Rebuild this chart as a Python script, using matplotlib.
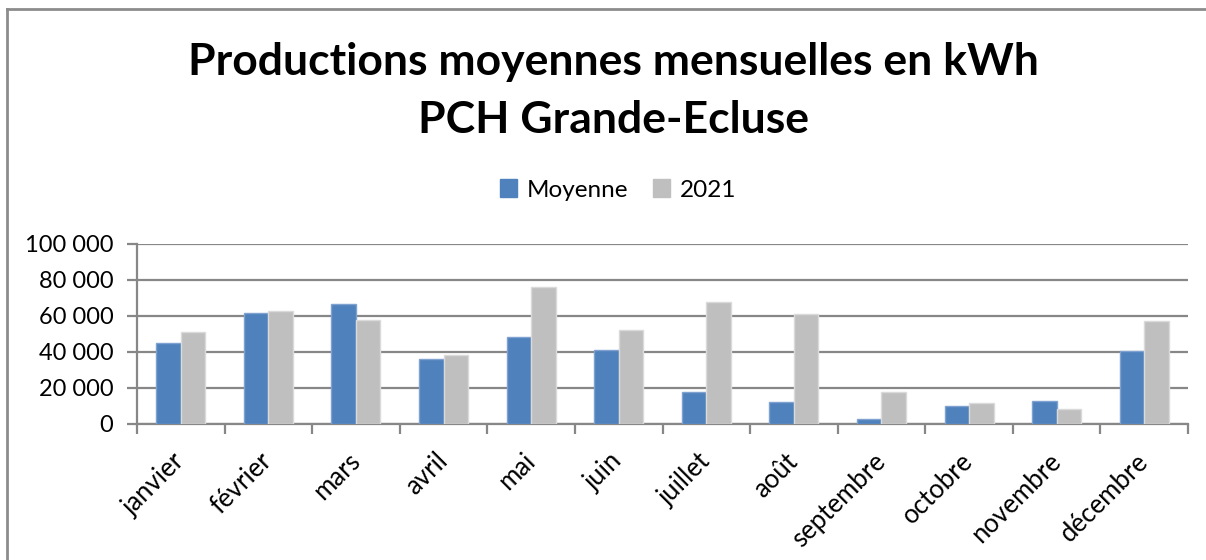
import matplotlib
matplotlib.use("Agg")
import matplotlib.pyplot as plt
import numpy as np
from matplotlib.ticker import FuncFormatter, MultipleLocator
from matplotlib.lines import Line2D

months = ["janvier", "février", "mars", "avril", "mai", "juin", "juillet",
          "août", "septembre", "octobre", "novembre", "décembre"]
moyenne = [44800, 61700, 66900, 36100, 48500, 40900, 17600, 12200, 3000, 10200, 12600, 40700]
y2021 = [50900, 62600, 57800, 38300, 75900, 52000, 67800, 60900, 18000, 11500, 8200, 57200]
series_names = ["Moyenne", "2021"]
colors = ["#4F81BD", "#BFBFBF"]
edgecolors = ["#7FA2D0", "#DADADA"]

plt.rcParams['font.family'] = ['Lato', 'DejaVu Sans']

fig = plt.figure(figsize=(12.06, 5.6), dpi=100)
ax = fig.add_axes([137/1206, 1-424/560, (1188-137)/1206, (424-244)/560])

x = np.arange(len(months))
w = 0.28
ax.bar(x - w/2, moyenne, width=w, color=colors[0], edgecolor=edgecolors[0], linewidth=1, zorder=3, label=series_names[0])
ax.bar(x + w/2, y2021, width=w, color=colors[1], edgecolor=edgecolors[1], linewidth=1, zorder=3, label=series_names[1])

ax.set_xlim(-0.5, len(months) - 0.5)
ax.set_ylim(0, 100000)
ax.yaxis.set_major_locator(MultipleLocator(20000))
ax.yaxis.set_major_formatter(FuncFormatter(lambda v, p: f"{int(v):,}".replace(",", " ")))
ax.grid(axis='y', color='#878787', linewidth=1.6, zorder=0)
ax.set_axisbelow(True)

for s in ['top', 'right']:
    ax.spines[s].set_visible(False)
for s in ['left', 'bottom']:
    ax.spines[s].set_color('#878787')
    ax.spines[s].set_linewidth(1.6)

ax.set_xticks(np.arange(-0.5, len(months) + 0.5, 1))
ax.set_xticklabels([])
ax.set_xticks(x, minor=True)
ax.set_xticklabels(months, minor=True, rotation=45, ha='right', va='center',
                   rotation_mode='anchor', fontsize=18.5)
ax.tick_params(axis='x', which='minor', length=0, pad=24)
ax.tick_params(axis='x', which='major', length=7, width=1.6, color='#878787')
ax.tick_params(axis='y', length=7, width=1.6, color='#878787', labelsize=17, pad=10)

fig.text(613/1206, 1-62/560, "Productions moyennes mensuelles en kWh",
         ha='center', va='center', fontsize=32, fontweight='bold')
fig.text(613/1206, 1-120/560, "PCH Grande-Ecluse",
         ha='center', va='center', fontsize=32, fontweight='bold')

handles = [plt.Rectangle((0, 0), 1, 1, color=c) for c in colors]
fig.legend(handles, series_names, loc='center', bbox_to_anchor=(618/1206, 1-190/560),
           ncol=2, frameon=False, fontsize=17.5, handlelength=0.7, handleheight=0.7,
           handletextpad=0.4, columnspacing=1.0)

# outer chart border (left and top visible)
fig.add_artist(Line2D([7/1206, 7/1206], [0, 1-9/560], color='#8C8C8C', linewidth=2, transform=fig.transFigure))
fig.add_artist(Line2D([7/1206, 1.01], [1-9/560, 1-9/560], color='#8C8C8C', linewidth=2, transform=fig.transFigure))

fig.savefig("out.png", dpi=100)
